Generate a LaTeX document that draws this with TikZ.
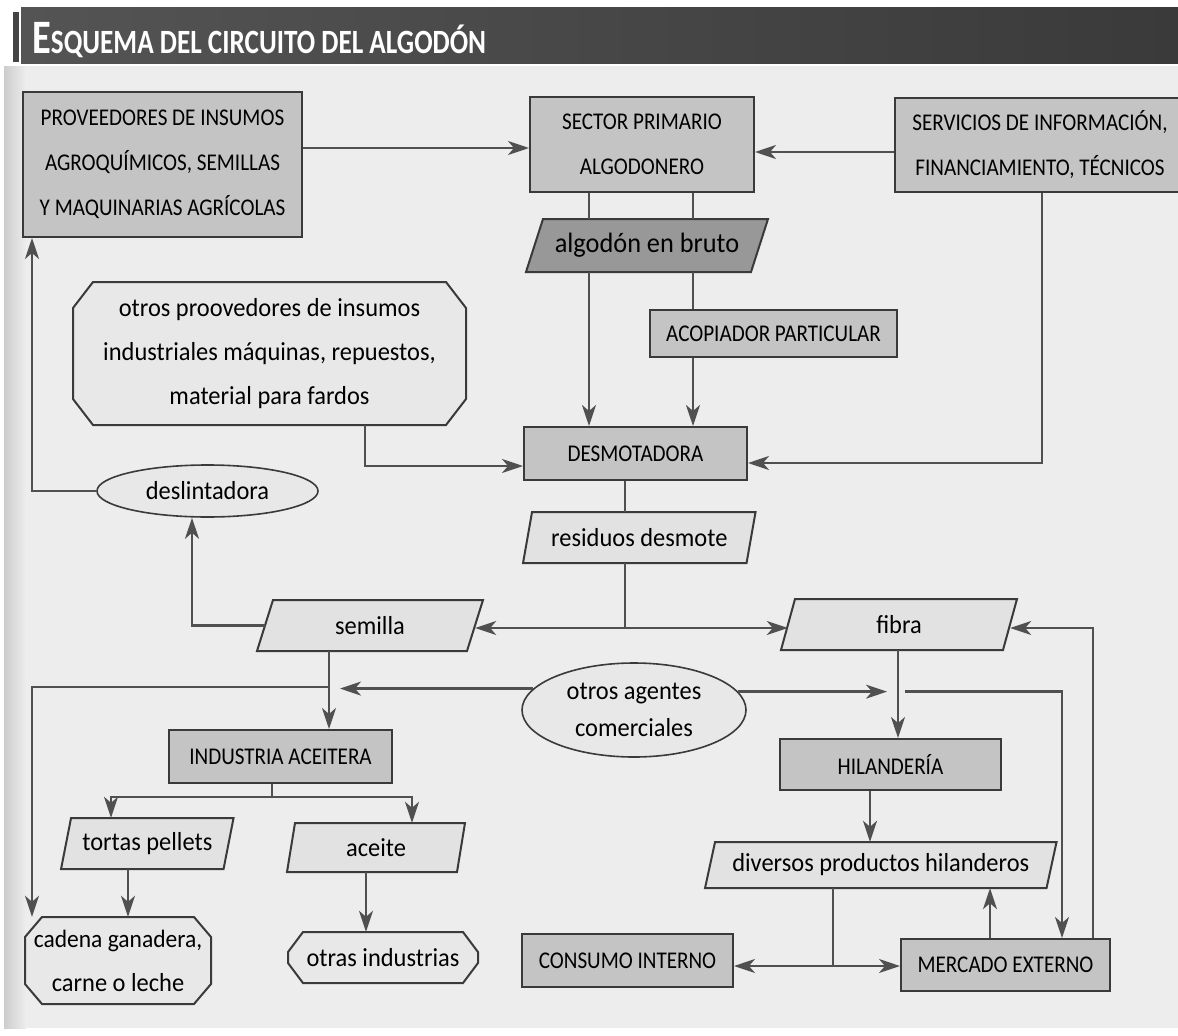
\documentclass[tikz,border=0pt]{standalone}
\usepackage{fontspec}
\setmainfont{Carlito}
\newfontfamily\capsfam[FakeStretch=0.88]{Carlito}
\newfontfamily\lowfam[FakeStretch=0.94]{Carlito}
\usetikzlibrary{arrows.meta,shapes.geometric}
\definecolor{bgc}{HTML}{EDEDED}
\definecolor{boxc}{HTML}{C4C4C4}
\definecolor{darkc}{HTML}{989898}
\definecolor{parac}{HTML}{E2E2E2}
\definecolor{softc}{HTML}{E8E8E8}
\definecolor{edgec}{HTML}{3A3A3A}
\definecolor{linec}{HTML}{505050}
\definecolor{bandc}{HTML}{444444}
\newcommand\capsfont{\capsfam\fontsize{24}{45}\selectfont}
\newcommand\lowfont{\lowfam\fontsize{26}{44}\selectfont}
\tikzset{
 rbox/.style={rectangle, draw=edgec, line width=2pt, fill=boxc, inner sep=0pt, align=center, font=\capsfont},
 pnode/.style={rectangle, inner sep=0pt, align=center, font=\lowfont},
 ell/.style={ellipse, draw=edgec, line width=1.6pt, fill=softc, inner sep=0pt, align=center, font=\lowfont},
 conn/.style={draw=linec, line width=2.4pt},
 arr/.style={conn, -{Stealth[length=21pt,width=14pt,inset=6pt]}},
}
% parallelogram: name cx cy w h slant fill text
\newcommand\parnode[8]{%
 \filldraw[draw=edgec, line width=2pt, fill=#7] ({#2-#4/2+#6},{#3-#5/2}) -- ({#2+#4/2+#6},{#3-#5/2}) -- ({#2+#4/2-#6},{#3+#5/2}) -- ({#2-#4/2-#6},{#3+#5/2}) -- cycle;
 \node[pnode, minimum width=#4pt, minimum height=#5pt] (#1) at (#2,#3) {#8};}
% octagon: name cx cy w h chamferx chamfery text
\newcommand\octnode[8]{%
 \filldraw[draw=edgec, line width=2pt, fill=softc] ({#2-#4/2+#6},{#3-#5/2}) -- ({#2+#4/2-#6},{#3-#5/2}) -- ({#2+#4/2},{#3-#5/2+#7}) -- ({#2+#4/2},{#3+#5/2-#7}) -- ({#2+#4/2-#6},{#3+#5/2}) -- ({#2-#4/2+#6},{#3+#5/2}) -- ({#2-#4/2},{#3+#5/2-#7}) -- ({#2-#4/2},{#3-#5/2+#7}) -- cycle;
 \node[pnode, minimum width=#4pt, minimum height=#5pt] (#1) at (#2,#3) {#8};}
\begin{document}
\begin{tikzpicture}[x=1pt,y=-1pt]
\useasboundingbox (0,0) rectangle (1178,1036);
\clip (0,0) rectangle (1178,1036);
% background
\fill[white] (0,0) rectangle (1178,1036);
\fill[bgc] (4,66) rectangle (1178,1028);
\shade[left color={rgb,255:red,205;green,205;blue,205}, right color=bgc] (4,66) rectangle (26,1028);
% title band
\shade[left color={rgb,255:red,84;green,84;blue,84}, right color={rgb,255:red,58;green,58;blue,58}] (21,7) rectangle (1178,63);
\fill[bandc] (13,12) rectangle (19,62);
\node[anchor=base west, text=white, inner sep=0pt] (title) at (32,53) {\scalebox{0.8}[1]{\bfseries\fontsize{48}{48}\selectfont E\fontsize{34}{34}\selectfont SQUEMA DEL CIRCUITO DEL ALGOD\'ON}};

% rectangles
\node[rbox, minimum width=279pt, minimum height=145pt] (prov) at (162.5,164.5) {PROVEEDORES DE INSUMOS\\AGROQUÍMICOS, SEMILLAS\\Y MAQUINARIAS AGRÍCOLAS};
\node[rbox, minimum width=224pt, minimum height=95pt] (sector) at (642,144.5) {SECTOR PRIMARIO\\ALGODONERO};
\node[rbox, minimum width=310pt, minimum height=94pt] (serv) at (1050,145) {SERVICIOS DE INFORMACIÓN,\hspace*{20pt}\\FINANCIAMIENTO, TÉCNICOS\hspace*{20pt}};
\node[rbox, minimum width=247pt, minimum height=47pt] (acop) at (773.5,333.5) {ACOPIADOR PARTICULAR};
\node[rbox, minimum width=223pt, minimum height=53pt] (desmot) at (635.5,453.5) {DESMOTADORA};
\node[rbox, minimum width=223pt, minimum height=53pt] (indus) at (280.5,756.5) {INDUSTRIA ACEITERA};
\node[rbox, minimum width=221pt, minimum height=51pt] (hilan) at (890.5,764.5) {HILANDERÍA};
\node[rbox, minimum width=211pt, minimum height=53pt] (consumo) at (627.5,960.5) {CONSUMO INTERNO};
\node[rbox, minimum width=209pt, minimum height=52pt] (mercado) at (1005.5,965) {MERCADO EXTERNO};

% parallelograms
\parnode{algod}{647}{245.5}{225}{53}{8.5}{darkc}{\fontsize{28}{30}\selectfont algodón en bruto}
\parnode{resid}{639.3}{537.5}{223.5}{51}{4.5}{parac}{residuos desmote}
\parnode{semilla}{370}{625.5}{210}{51}{8}{parac}{semilla}
\parnode{fibra}{899}{624.5}{222}{51}{7}{parac}{fibra}
\parnode{tortas}{147.3}{843.5}{162.5}{51}{5}{parac}{tortas pellets}
\parnode{aceite}{376}{847.5}{170}{49}{4}{parac}{aceite}
\parnode{divers}{880.8}{865}{341.5}{46}{5}{parac}{diversos productos hilanderos}

% octagons
\octnode{oprov}{269.5}{353.5}{393}{143}{20}{26}{otros proovedores de insumos\\industriales máquinas, repuestos,\\material para fardos}
\octnode{cadena}{118}{960.5}{186}{87}{17}{20}{\fontsize{25}{42}\selectfont cadena ganadera,\\carne o leche}
\octnode{otras}{383}{957.5}{190}{51}{15}{20}{otras industrias}

% ellipses
\node[ell, minimum width=221pt, minimum height=52pt] (desl) at (207.5,491) {deslintadora};
\node[ell, minimum width=224pt, minimum height=94pt, font=\lowfam\fontsize{26}{37}\selectfont] (agentes) at (634,710) {otros agentes\\comerciales};

% helper coordinates
\coordinate (h148) at (0,148);
\coordinate (h152) at (0,152);
\coordinate (h466) at (0,466);
\coordinate (h463) at (0,463);
\coordinate (h628) at (0,628);
\coordinate (v32) at (32,0);
\coordinate (v111) at (111,0);
\coordinate (v128) at (128,0);
\coordinate (v192) at (192,0);
\coordinate (v272) at (272,0);
\coordinate (v329) at (329,0);
\coordinate (v365) at (365,0);
\coordinate (v366) at (366,0);
\coordinate (v412) at (412,0);
\coordinate (v589) at (589,0);
\coordinate (v625) at (625,0);
\coordinate (v693) at (693,0);
\coordinate (v833) at (833,0);
\coordinate (v870) at (870,0);
\coordinate (v898) at (898,0);
\coordinate (v990) at (990,0);
\coordinate (v1042) at (1042,0);
\coordinate (v1062) at (1062,0);
\coordinate (v1093) at (1093,0);
\coordinate (aL) at (340,0);
\coordinate (aR) at (887,0);
\coordinate (m0) at (905,0);
\coordinate (jres) at (625,628);
\coordinate (jsem) at (329,687);
\coordinate (jcm) at (833,966);
\coordinate (jind) at (272,797);

% connectors
\draw[arr] (prov.east |- h148) -- (sector.west |- h148);
\draw[arr] (serv.west |- h152) -- (sector.east |- h152);
\draw[conn] (sector.south -| v589) -- (algod.north -| v589);
\draw[arr] (algod.south -| v589) -- (desmot.north -| v589);
\draw[conn] (sector.south -| v693) -- (algod.north -| v693);
\draw[conn] (algod.south -| v693) -- (acop.north -| v693);
\draw[arr] (acop.south -| v693) -- (desmot.north -| v693);
\draw[arr] (oprov.south -| v365) |- (desmot.west |- h466);
\draw[arr] (serv.south -| v1042) |- (desmot.east |- h463);
\draw[arr] (desl.west) -| (prov.south -| v32);
\draw[conn] (desmot.south -| v625) -- (resid.north -| v625);
\draw[conn] (resid.south -| v625) -- (jres);
\draw[arr] (jres) -- (semilla.east |- jres);
\draw[arr] (jres) -- (fibra.west |- jres);
\draw[arr] (semilla.west) -| (desl.south -| v192);
\draw[arr] (semilla.south -| v329) -- (indus.north -| v329);
\draw[arr] (jsem) -| (cadena.north -| v32);
\draw[arr] (agentes.168) -- (agentes.168 -| aL);
\draw[arr] (agentes.10) -- (agentes.10 -| aR);
\draw[arr] (agentes.10 -| m0) -| (mercado.north -| v1062);
\draw[arr] (fibra.south -| v898) -- (hilan.north -| v898);
\draw[arr] (hilan.south -| v870) -- (divers.north -| v870);
\draw[conn] (divers.south -| v833) -- (jcm);
\draw[arr] (jcm) -- (consumo.east |- jcm);
\draw[arr] (jcm) -- (mercado.west |- jcm);
\draw[arr] (mercado.north -| v990) -- (divers.south -| v990);
\draw[arr] (mercado.north -| v1093) |- (fibra.east |- h628);
\draw[conn] (indus.south -| v272) -- (jind);
\draw[arr] (jind) -| (tortas.north -| v111);
\draw[arr] (jind) -| (aceite.north -| v412);
\draw[arr] (tortas.south -| v128) -- (cadena.north -| v128);
\draw[arr] (aceite.south -| v366) -- (otras.north -| v366);
\end{tikzpicture}
\end{document}
